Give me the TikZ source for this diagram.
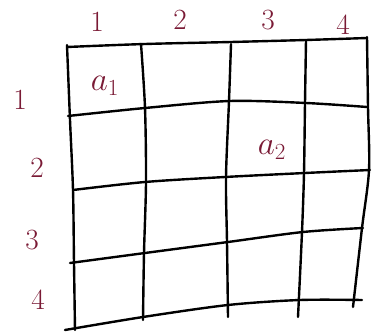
\documentclass[tikz,border=0pt]{standalone}
\begin{document}
\begin{tikzpicture}[x=0.75pt,y=-0.75pt]
\definecolor{ink}{HTML}{7A1A35}
\tikzset{gridline/.style={line width=1.8pt,line cap=round,black},
  lab/.style={text=ink,font=\fontsize{22}{26}\selectfont,inner sep=0pt},
  celllab/.style={lab,font=\fontsize{27}{30}\selectfont}}
\useasboundingbox (0,0) rectangle (378,334);
% horizontal lines
\draw[gridline] plot[smooth,tension=0.5] coordinates {(67,47) (145,44) (231,42) (306,40) (367,38)};
\draw[gridline] plot[smooth,tension=0.5] coordinates {(68,116) (145,108) (230,101) (306,103) (367,107)};
\draw[gridline] plot[smooth,tension=0.5] coordinates {(73,190) (145,182) (225,177) (305,173) (370,170)};
\draw[gridline] plot[smooth,tension=0.5] coordinates {(70,263) (145,253) (228,242) (303,232) (363,228)};
\draw[gridline] plot[smooth,tension=0.5] coordinates {(65,330) (143,317) (228,305) (300,300) (362,300)};
% vertical lines
\draw[gridline] plot[smooth,tension=0.5] coordinates {(67,45) (70,120) (73,190) (74,263) (75,330)};
\draw[gridline] plot[smooth,tension=0.5] coordinates {(141,44) (145,108) (146,182) (144,253) (143,320)};
\draw[gridline] plot[smooth,tension=0.5] coordinates {(231,44) (229,101) (226,177) (227,242) (228,317)};
\draw[gridline] plot[smooth,tension=0.5] coordinates {(306,40) (305,103) (304,173) (302,232) (298,317)};
\draw[gridline] plot[smooth,tension=0.5] coordinates {(367,37) (368,107) (369,170) (362,228) (353,307)};
% column labels
\node[lab] (c1) at (97,22) {1};
\node[lab] (c2) at (180,20) {2};
\node[lab] (c3) at (268,20) {3};
\node[lab] (c4) at (343,25) {4};
% row labels
\node[lab] (r1) at (20,100) {1};
\node[lab] (r2) at (37,168) {2};
\node[lab] (r3) at (32,240) {3};
\node[lab] (r4) at (38,300) {4};
% cell labels
\node[celllab] (a1) at (105,86) {$a_1$};
\node[celllab] (a2) at (272,150) {$a_2$};
\end{tikzpicture}
\end{document}
